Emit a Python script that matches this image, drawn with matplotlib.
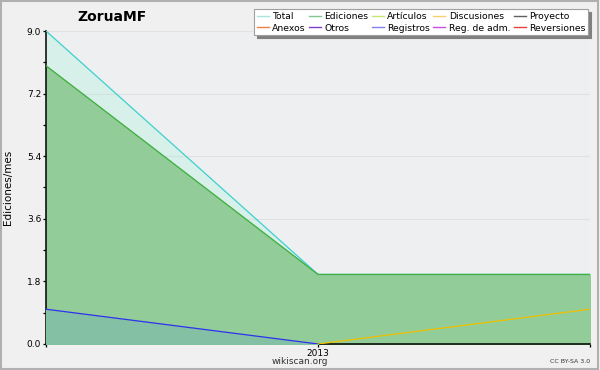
import matplotlib
matplotlib.use("Agg")
import matplotlib.pyplot as plt
import numpy as np
from matplotlib.patches import Rectangle

x = [0, 1, 2]
tick_labels = ["2013"]
total = [9.0, 2.0, 2.0]
ediciones = [8.0, 2.0, 2.0]
registros = [1.0, 0.0, np.nan]
discusiones = [np.nan, 0.0, 1.0]

legend_names = ["Total", "Ediciones", "Artículos", "Discusiones", "Proyecto",
                "Anexos", "Otros", "Registros", "Reg. de adm.", "Reversiones"]
legend_colors = ["#a8e4e0", "#80c890", "#c8e870", "#f8d070", "#606060",
                 "#f08048", "#8040c8", "#8080f0", "#c850e0", "#e84040"]

fig = plt.figure(figsize=(6, 3.7), dpi=100, facecolor="#f0f0f0")
fig.patches.append(Rectangle((0.002, 0.003), 0.995, 0.993, transform=fig.transFigure,
                             fill=False, edgecolor="#b0b0b0", linewidth=1.5))
ax = fig.add_axes([0.0767, 0.0703, 0.9066, 0.8459])
ax.set_facecolor("#eeeff0")

ax.fill_between(x, total, color="#d8f0ea", zorder=1)
ax.plot(x, total, color="#40d0d0", lw=0.9, zorder=4)
ax.fill_between(x, ediciones, color="#92cc98", zorder=2)
ax.plot(x, ediciones, color="#40b040", lw=0.9, zorder=4)
xr = np.array(x, dtype=float)
r = np.array(registros)
m = ~np.isnan(r)
ax.fill_between(xr[m], r[m], color="#84c0a4", zorder=3)
ax.plot(xr[m], r[m], color="#3030f0", lw=0.9, zorder=5)
d = np.array(discusiones)
m2 = ~np.isnan(d)
ax.plot(xr[m2], d[m2], color="#f0c000", lw=0.9, zorder=5)

ax.set_xlim(0, 2)
ax.set_ylim(0, 9.0)
ax.set_yticks(np.arange(0, 9.01, 1.8))
ax.set_yticklabels([f"{v:.1f}" for v in np.arange(0, 9.01, 1.8)])
ax.set_yticks(np.arange(0, 9.01, 0.9), minor=True)
ax.set_xticks([1])
ax.set_xticklabels(tick_labels)
ax.set_xticks([0, 2], minor=True)
ax.grid(axis="y", color="#c8c8c8", lw=0.8, zorder=0)
for s in ["top", "right"]:
    ax.spines[s].set_visible(False)
ax.spines["left"].set_linewidth(1.1)
ax.spines["bottom"].set_linewidth(1.1)
ax.tick_params(axis="both", labelsize=6.5, length=2.5, width=0.9, pad=1)
ax.tick_params(axis="both", which="minor", length=2.5, width=0.9)
for gl in ax.get_ygridlines():
    gl.set_zorder(6)
    gl.set_alpha(0.35)

ax.set_ylabel("Ediciones/mes", fontsize=7.5, labelpad=10)
fig.text(0.187, 0.953, "ZoruaMF", fontsize=10, fontweight="bold", ha="center", va="center")
fig.text(0.5, 0.024, "wikiscan.org", fontsize=6.5, ha="center", va="center", color="#333333")
fig.text(0.983, 0.022, "CC BY-SA 3.0", fontsize=4.5, ha="right", va="center", color="#333333")

handles = [plt.Line2D([], [], color=c, lw=1) for c in legend_colors]
order = [0, 5, 1, 6, 2, 7, 3, 8, 4, 9]
leg = fig.legend([handles[i] for i in order], [legend_names[i] for i in order],
                 ncol=5, loc="upper right", bbox_to_anchor=(0.988, 0.987),
                 prop={"size": 6.7},
                 frameon=True, fancybox=False, shadow={"color": "#808080", "alpha": 1},
                 borderpad=0.3, labelspacing=0.25, handlelength=1.3, handletextpad=0.35,
                 columnspacing=0.35, edgecolor="#a0a0a0")
leg.get_frame().set_linewidth(0.8)

fig.savefig("out.png", dpi=100, facecolor=fig.get_facecolor())
